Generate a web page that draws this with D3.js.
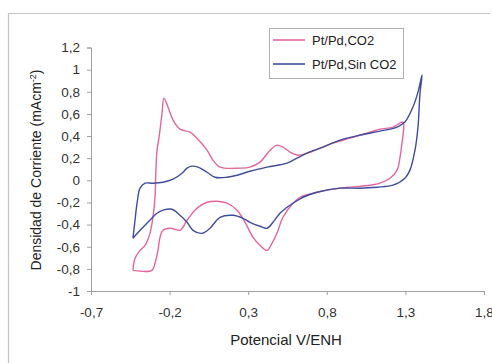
<!DOCTYPE html>
<html>
	<head>
		<meta charset="utf-8" />
		<title>Voltametria Pt/Pd</title>
		<script src="https://d3js.org/d3.v7.min.js"></script>
		<style>
			body { margin: 0; background: #fff; }
			svg { display: block; font-family: Arial, "Liberation Sans", sans-serif; }
			.tick text { fill: #333; font-size: 13.5px; }
		</style>
	</head>
	<body>
		<div id="holder"></div>
		<script>
			//Data
			const seriesNames = ["Pt/Pd,CO2", "Pt/Pd,Sin CO2"];
			const xTicks = [-0.7, -0.2, 0.3, 0.8, 1.3, 1.8];
			const yTicks = [-1, -0.8, -0.6, -0.4, -0.2, 0, 0.2, 0.4, 0.6, 0.8, 1, 1.2];

			//Pt/Pd,CO2 - potential (V) and current density
			const co2V = [-0.433, -0.420, -0.388, -0.356, -0.325, -0.306, -0.293, -0.287, -0.280, -0.267, -0.248, -0.236,
				-0.210, -0.178, -0.134, -0.070, -0.026, 0.038, 0.076, 0.121, 0.248, 0.311, 0.375, 0.439, 0.483, 0.521,
				0.566, 0.617, 0.674, 0.757, 0.839, 0.948, 1.075, 1.138, 1.221, 1.285,
				1.285, 1.278, 1.266, 1.247, 1.202, 1.138, 1.075, 0.884, 0.738, 0.630, 0.585, 0.521, 0.483, 0.451, 0.420,
				0.375, 0.331, 0.280, 0.229, 0.165, 0.102, 0.038, -0.026, -0.089, -0.115, -0.134, -0.197, -0.242, -0.261,
				-0.274, -0.293, -0.312, -0.433];
			const co2I = [-0.814, -0.705, -0.633, -0.587, -0.479, -0.334, -0.153, 0.092, 0.272, 0.390, 0.607, 0.743,
				0.662, 0.544, 0.462, 0.435, 0.381, 0.272, 0.182, 0.119, 0.110, 0.119, 0.164, 0.272, 0.318, 0.300,
				0.255, 0.227, 0.245, 0.290, 0.336, 0.381, 0.435, 0.462, 0.481, 0.526,
				0.408, 0.336, 0.209, 0.092, 0.019, -0.026, -0.044, -0.071, -0.108, -0.153, -0.207, -0.334, -0.479, -0.569, -0.633,
				-0.587, -0.515, -0.379, -0.270, -0.207, -0.189, -0.198, -0.252, -0.361, -0.424, -0.452, -0.433, -0.452, -0.515,
				-0.633, -0.750, -0.814, -0.814];

			//Pt/Pd,Sin CO2
			const sinV = [-0.433, -0.420, -0.407, -0.388, -0.356, -0.306, -0.242, -0.178, -0.121, -0.089, -0.058, -0.019,
				0.038, 0.089, 0.165, 0.229, 0.311, 0.420, 0.547, 0.610, 0.674, 0.776, 0.884, 1.011, 1.138, 1.247, 1.297,
				1.348, 1.380, 1.406,
				1.393, 1.380, 1.361, 1.329, 1.297, 1.221, 1.119, 1.011, 0.884, 0.738, 0.649, 0.585, 0.547, 0.502, 0.458,
				0.420, 0.375, 0.311, 0.267, 0.203, 0.121, 0.057, 0.006, -0.051, -0.089, -0.134, -0.185, -0.242, -0.280,
				-0.344, -0.388, -0.433];
			const sinI = [-0.524, -0.361, -0.207, -0.071, -0.026, -0.026, -0.017, 0.010, 0.064, 0.110, 0.128, 0.119,
				0.073, 0.028, 0.028, 0.046, 0.082, 0.119, 0.155, 0.200, 0.245, 0.300, 0.363, 0.408, 0.444, 0.481, 0.526,
				0.662, 0.797, 0.951,
				0.788, 0.481, 0.272, 0.092, 0.019, -0.044, -0.062, -0.071, -0.071, -0.108, -0.153, -0.207, -0.243, -0.298, -0.379,
				-0.433, -0.415, -0.379, -0.343, -0.316, -0.334, -0.433, -0.479, -0.452, -0.379, -0.316, -0.261, -0.270, -0.298,
				-0.388, -0.452, -0.524];

			const colors = ["#e4669d", "#3f4d9c"];

			//Variables
			const w = 492;
			const h = 363;

			let svg = d3.select("#holder")
				.append("svg")
				.attr("width", w)
				.attr("height", h);

			//outer frame (scan edge)
			svg.append("path")
				.attr("d", "M8.5," + h + "V13.5H490")
				.attr("fill", "none")
				.attr("stroke", "#c4c4c4")
				.attr("stroke-width", 1.2);

			//Scales
			let xScale = d3.scaleLinear()
				.domain([-0.7, 1.8])
				.range([91, 484]);
			let yScale = d3.scaleLinear()
				.domain([-1, 1.2])
				.range([291, 47.5]);

			const fmt = d => String(Math.round(d * 10) / 10).replace(".", ",");

			//Axes
			const xAxis = d3.axisBottom(xScale).tickValues(xTicks).tickSize(4).tickPadding(12).tickFormat(fmt);
			let gx = svg.append("g")
				.attr("transform", "translate(0, 291)")
				.call(xAxis);

			const yAxis = d3.axisLeft(yScale).tickValues(yTicks).tickSize(4).tickPadding(7).tickFormat(fmt);
			let gy = svg.append("g")
				.attr("transform", "translate(91, 0)")
				.call(yAxis);

			svg.selectAll(".domain, .tick line").attr("stroke", "#a0a0a0");

			//Curves
			const line = d3.line()
				.x(d => xScale(d[0]))
				.y(d => yScale(d[1]))
				.curve(d3.curveCatmullRom.alpha(0.5));

			const series = [d3.zip(co2V, co2I), d3.zip(sinV, sinI)];
			svg.selectAll("path.curve")
				.data(series)
				.enter()
				.append("path")
				.attr("class", "curve")
				.attr("d", line)
				.attr("fill", "none")
				.attr("stroke", (d, i) => colors[i])
				.attr("stroke-width", 1.4);

			//Labels
			svg.append("text")
				.attr("x", 286)
				.attr("y", 345)
				.attr("text-anchor", "middle")
				.style("font-size", "15px")
				.attr("fill", "#222")
				.text("Potencial V/ENH");

			let yl = svg.append("text")
				.attr("transform", "translate(41,170) rotate(-90)")
				.attr("text-anchor", "middle")
				.style("font-size", "14px")
				.attr("fill", "#222");
			yl.append("tspan").text("Densidad de Corriente (mAcm");
			yl.append("tspan").attr("dy", -5).style("font-size", "9px").text("-2");
			yl.append("tspan").attr("dy", 5).text(")");

			//Legend
			let lg = svg.append("g");
			lg.append("rect")
				.attr("x", 269.5)
				.attr("y", 28.5)
				.attr("width", 134)
				.attr("height", 50)
				.attr("fill", "#fff")
				.attr("stroke", "#b0b0b0");
			seriesNames.forEach((name, i) => {
				lg.append("line")
					.attr("x1", 273).attr("x2", 305)
					.attr("y1", 40 + i * 24).attr("y2", 40 + i * 24)
					.attr("stroke", colors[i])
					.attr("stroke-width", 1.6);
				lg.append("text")
					.attr("x", 312)
					.attr("y", 45 + i * 24)
					.style("font-size", "13px")
					.attr("fill", "#222")
					.text(name);
			});
		</script>
	</body>
</html>
